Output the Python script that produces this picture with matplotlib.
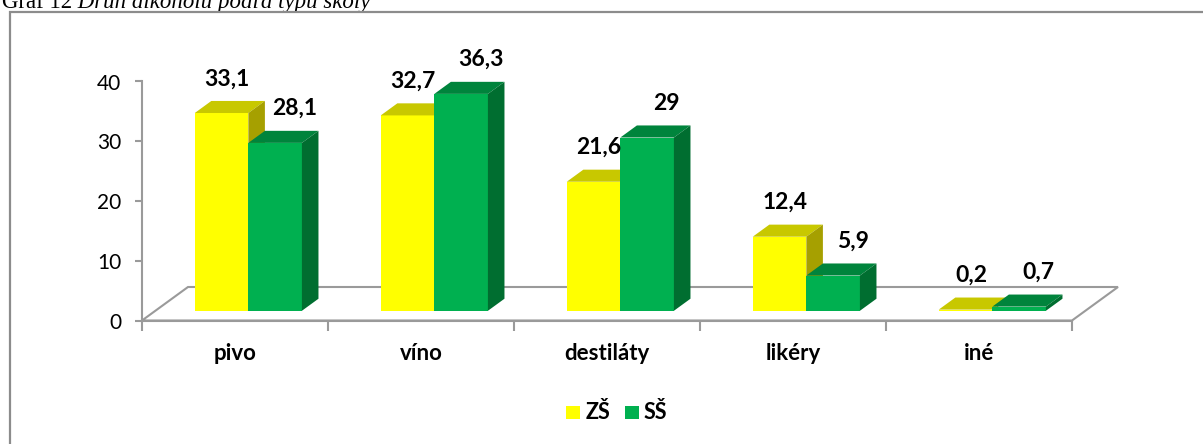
import numpy as np
import matplotlib.pyplot as plt
from matplotlib.patches import Polygon, Rectangle

plt.rcParams['font.family'] = ['Lato', 'DejaVu Sans']

categories = ['pivo', 'víno', 'destiláty', 'likéry', 'iné']
zs = [33.1, 32.7, 21.6, 12.4, 0.2]
ss = [28.1, 36.3, 29.0, 5.9, 0.7]
zs_labels = ['33,1', '32,7', '21,6', '12,4', '0,2']
ss_labels = ['28,1', '36,3', '29', '5,9', '0,7']
series_names = ['ZŠ', 'SŠ']

W, H = 1203, 444
fig = plt.figure(figsize=(W / 100, H / 100), dpi=100)

# outer frame, runs off the right and bottom edge
fig.patches.append(Rectangle((10 / W, -0.1), 1.2, (H - 12) / H + 0.1,
                             transform=fig.transFigure, fill=False,
                             edgecolor='#8c8c8c', linewidth=1.6))

ax = fig.add_axes([142 / W, (H - 320.5) / H, 930 / W, 239 / H])
ax.set_xlim(0, 5)
ax.set_ylim(0, 40)

# caption, cut off at the top like in the source
t1 = fig.text(2 / W, (H - 13) / H, 'Graf 12', family='Liberation Serif',
              fontsize=16.5, va='bottom')
ax.annotate(' Druh alkoholu podľa typu školy', xy=(1, 0), xycoords=t1,
            va='bottom', ha='left', family='Liberation Serif',
            fontsize=16.5, style='italic', annotation_clip=False)

# oblique depth of the floor in data units
DX = 46 / 186
DY = 33.5 / (239 / 40)
D0, D1 = 0.29, 0.65  # front / back of bars as share of depth
BW = 0.288

gray = '#9a9a9a'
floor = Polygon([(0, 0), (5, 0), (5 + DX, DY), (DX, DY)], closed=True,
                facecolor='white', edgecolor=gray, linewidth=1.5,
                clip_on=False, zorder=1)
ax.add_patch(floor)

colors = [('#ffff00', '#c8c800', '#a6a000'),
          ('#00b050', '#00843c', '#006e30')]


def bar3d(x0, v, cols):
    front, top, side = cols
    fx0, fx1 = x0 + D0 * DX, x0 + BW + D0 * DX
    fy0 = D0 * DY
    bx = (D1 - D0) * DX
    by = (D1 - D0) * DY
    ax.add_patch(Polygon([(fx0, fy0), (fx1, fy0), (fx1, fy0 + v), (fx0, fy0 + v)],
                         facecolor=front, edgecolor='none', clip_on=False, zorder=3))
    ax.add_patch(Polygon([(fx0, fy0 + v), (fx1, fy0 + v), (fx1 + bx, fy0 + v + by),
                          (fx0 + bx, fy0 + v + by)],
                         facecolor=top, edgecolor='none', clip_on=False, zorder=3))
    ax.add_patch(Polygon([(fx1, fy0), (fx1 + bx, fy0 + by), (fx1 + bx, fy0 + v + by),
                          (fx1, fy0 + v)],
                         facecolor=side, edgecolor='none', clip_on=False, zorder=3))
    return (fx0 + fx1) / 2 + (D1 - D0) / 2 * DX, fy0 + v + by


label_dx = [-2, 8]  # points, data labels of the two series
for i in range(len(categories)):
    for s, (vals, labs) in enumerate([(zs, zs_labels), (ss, ss_labels)]):
        x0 = i + 0.5 - BW + s * BW
        lx, ly = bar3d(x0, vals[i], colors[s])
        ax.annotate(labs[i], xy=(lx, ly), xytext=(label_dx[s], 16),
                    textcoords='offset points', ha='center', va='center',
                    fontsize=16.5, fontweight='bold', annotation_clip=False,
                    zorder=6)

for sp in ['top', 'right']:
    ax.spines[sp].set_visible(False)
ax.spines['left'].set_color(gray)
ax.spines['left'].set_linewidth(1.5)
ax.spines['bottom'].set_color(gray)
ax.spines['bottom'].set_linewidth(1.5)

ax.set_yticks([0, 10, 20, 30, 40])
ax.tick_params(axis='y', length=5, width=1.5, color=gray, labelsize=15, pad=10)
ax.set_xticks(np.arange(6))
ax.set_xticklabels([])
ax.tick_params(axis='x', which='major', length=7, width=1.5, color=gray)
ax.set_xticks(np.arange(len(categories)) + 0.5, minor=True)
ax.set_xticklabels(categories, minor=True, fontsize=16, fontweight='bold')
ax.tick_params(axis='x', which='minor', length=0, pad=16)

# legend
ly0 = (H - 419) / H
sq_w, sq_h = 14 / W, 13 / H
fig.patches.append(Rectangle((566 / W, ly0), sq_w, sq_h, transform=fig.transFigure,
                             facecolor=colors[0][0], edgecolor='none'))
fig.text(586 / W, (H - 412) / H, series_names[0], fontsize=15.5,
         fontweight='bold', va='center')
fig.patches.append(Rectangle((625 / W, ly0), sq_w, sq_h, transform=fig.transFigure,
                             facecolor=colors[1][0], edgecolor='none'))
fig.text(644 / W, (H - 412) / H, series_names[1], fontsize=15.5,
         fontweight='bold', va='center')

fig.savefig('out.png', dpi=100)
